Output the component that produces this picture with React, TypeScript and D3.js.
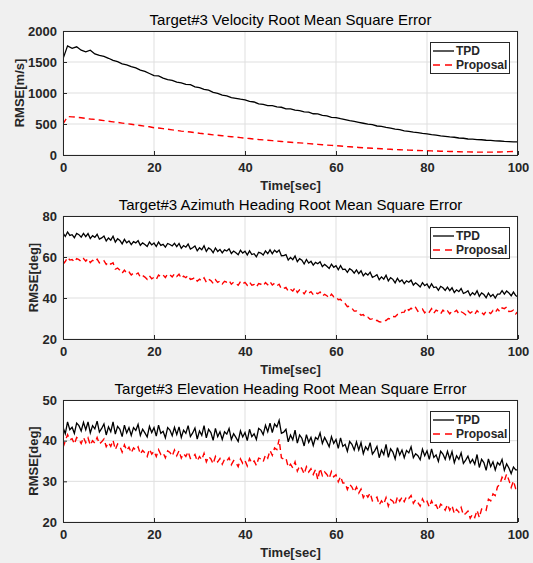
import { useEffect, useRef } from 'react'
import * as d3 from 'd3'

// ---- chart text ----
const titles = [
  'Target#3 Velocity Root Mean Square Error',
  'Target#3 Azimuth Heading Root Mean Square Error',
  'Target#3 Elevation Heading Root Mean Square Error',
]
const yLabels = ['RMSE[m/s]', 'RMSE[deg]', 'RMSE[deg]']
const xLabel = 'Time[sec]'
const seriesNames = ['TPD', 'Proposal']

// ---- axes ----
const xDomain = [0, 100]
const xTicks = [0, 20, 40, 60, 80, 100]
const yDomains = [[0, 2000], [20, 80], [20, 50]]
const yTicks = [[0, 500, 1000, 1500, 2000], [20, 40, 60, 80], [20, 30, 40, 50]]

// ---- velocity RMSE, one value per second (0..100) ----
const velTpd = [
  1550, 1760, 1720, 1745, 1690, 1665, 1690, 1630, 1605, 1590,
  1560, 1525, 1505, 1470, 1455, 1425, 1405, 1370, 1350, 1315,
  1280, 1275, 1240, 1215, 1205, 1175, 1165, 1140, 1135, 1100,
  1085, 1060, 1045, 1010, 995, 965, 955, 925, 915, 900,
  890, 865, 855, 825, 815, 795, 795, 775, 770, 745,
  745, 725, 715, 695, 690, 665, 662, 638, 632, 608,
  602, 585, 572, 555, 543, 527, 512, 498, 490, 468,
  462, 446, 432, 418, 410, 390, 382, 368, 362, 348,
  342, 328, 322, 308, 302, 292, 286, 274, 270, 258,
  256, 248, 246, 238, 236, 228, 226, 219, 216, 211,
  212,
]
const velProp = [
  500, 620, 615, 610, 600, 590, 580, 575, 565, 555,
  545, 535, 525, 515, 505, 495, 485, 475, 465, 455,
  440, 435, 425, 415, 405, 395, 385, 378, 370, 360,
  350, 342, 335, 325, 318, 310, 302, 295, 288, 280,
  272, 265, 258, 250, 244, 238, 232, 225, 218, 212,
  206, 200, 195, 190, 184, 178, 172, 166, 160, 155,
  150, 144, 138, 132, 127, 122, 117, 112, 108, 104,
  100, 96, 92, 88, 85, 82, 79, 76, 73, 71,
  69, 66, 64, 61, 59, 57, 55, 53, 51, 50,
  48, 47, 46, 46, 46, 47, 49, 51, 54, 57,
  60,
]

// ---- azimuth RMSE, one value per half second (0..100) ----
const azTpd = [
  71.8, 70.0, 72.2, 70.5, 70.9, 69.4, 71.5, 70.9, 69.7, 71.5,
  69.9, 71.4, 69.0, 70.4, 69.6, 71.1, 68.7, 69.3, 70.2, 67.8,
  69.3, 68.2, 70.1, 67.3, 68.9, 68.1, 66.4, 68.6, 66.9, 67.8,
  66.0, 67.5, 66.9, 68.0, 65.7, 66.9, 66.1, 65.1, 67.3, 65.9,
  66.8, 65.1, 67.3, 65.7, 66.2, 64.8, 66.6, 66.1, 65.4, 66.7,
  65.1, 66.6, 64.2, 65.6, 64.8, 66.3, 63.9, 64.5, 65.4, 63.0,
  64.5, 63.5, 65.5, 62.7, 64.4, 63.7, 62.1, 64.4, 62.7, 63.7,
  62.0, 63.5, 62.9, 64.0, 61.7, 62.9, 62.1, 61.1, 63.3, 61.9,
  62.8, 61.0, 63.0, 61.2, 61.6, 60.1, 62.3, 61.9, 61.0, 63.0,
  61.6, 63.5, 61.6, 63.3, 62.3, 63.4, 60.6, 60.7, 61.2, 58.5,
  59.8, 58.7, 60.5, 57.7, 59.2, 58.4, 56.6, 58.8, 57.0, 57.9,
  56.0, 57.4, 56.7, 57.7, 55.3, 56.4, 55.5, 54.4, 56.5, 55.0,
  55.8, 53.8, 55.8, 53.9, 54.1, 52.5, 54.3, 53.5, 52.1, 53.7,
  51.9, 53.3, 50.8, 52.1, 51.2, 52.6, 50.1, 50.6, 51.4, 48.9,
  50.3, 49.2, 51.1, 48.3, 49.9, 49.1, 47.4, 49.6, 47.9, 48.8,
  47.0, 48.4, 47.7, 48.7, 46.3, 47.4, 46.5, 45.4, 47.5, 46.0,
  46.8, 44.9, 46.9, 45.1, 45.4, 43.8, 45.7, 45.0, 43.7, 45.3,
  43.6, 45.0, 42.7, 44.0, 43.1, 44.6, 42.2, 42.7, 43.5, 41.2,
  42.6, 41.6, 43.5, 40.8, 42.5, 41.7, 40.1, 42.4, 40.7, 41.7,
  40.0, 41.9, 41.9, 43.6, 41.9, 43.4, 42.5, 41.1, 42.9, 41.2,
  40.5,
]
const azProp = [
  56.5, 57.8, 59.8, 58.5, 58.8, 57.6, 59.2, 58.7, 57.8, 59.2,
  58.0, 59.2, 57.3, 58.4, 57.7, 58.9, 57.1, 57.5, 58.2, 56.4,
  57.5, 56.5, 57.2, 54.1, 54.6, 53.6, 52.1, 53.6, 52.1, 52.7,
  51.2, 52.2, 51.5, 52.2, 50.2, 51.0, 50.2, 49.1, 50.8, 49.4,
  50.1, 49.1, 51.2, 50.4, 51.2, 50.0, 51.7, 51.3, 50.3, 51.8,
  50.5, 51.6, 49.6, 50.7, 49.9, 51.0, 49.1, 49.4, 50.1, 48.2,
  49.2, 48.4, 49.9, 47.7, 49.1, 48.5, 47.1, 48.9, 47.6, 48.3,
  46.9, 48.1, 47.7, 48.5, 46.7, 47.7, 47.1, 46.2, 48.0, 46.9,
  47.6, 46.2, 47.7, 46.3, 46.6, 45.3, 47.0, 46.7, 45.9, 47.5,
  46.5, 48.0, 46.3, 47.2, 46.0, 46.7, 44.4, 44.6, 45.2, 43.3,
  44.3, 43.4, 45.0, 42.7, 44.0, 43.4, 42.0, 43.7, 42.4, 43.1,
  41.6, 42.7, 42.1, 42.9, 41.0, 41.8, 41.1, 40.1, 41.9, 40.6,
  40.7, 39.2, 39.4, 37.9, 37.3, 35.8, 36.0, 35.0, 33.6, 33.7,
  32.7, 31.6, 31.9, 30.4, 30.6, 29.6, 29.8, 28.8, 29.1, 28.4,
  28.2, 29.0, 29.0, 30.0, 29.8, 31.0, 30.9, 32.0, 31.8, 33.0,
  33.1, 35.2, 34.0, 35.0, 34.2, 35.4, 33.5, 33.9, 34.6, 32.8,
  33.9, 33.1, 34.8, 32.6, 34.1, 33.5, 32.3, 34.1, 32.9, 33.7,
  32.3, 33.6, 33.1, 34.0, 32.3, 33.3, 32.7, 31.8, 33.7, 32.6,
  33.4, 32.1, 33.8, 32.6, 33.0, 31.9, 33.6, 33.2, 32.4, 33.9,
  32.9, 34.6, 33.4, 35.2, 34.8, 35.6, 33.4, 33.5, 34.1, 32.3,
  33.4,
]

// ---- elevation RMSE, one value per half second (0..100) ----
const elTpd = [
  43.3, 41.7, 44.6, 42.7, 43.3, 41.8, 44.3, 43.7, 42.4, 44.5,
  42.7, 44.6, 41.9, 43.7, 42.9, 44.8, 42.1, 43.0, 44.1, 41.4,
  43.4, 42.2, 44.6, 41.6, 43.5, 42.8, 41.0, 43.8, 41.9, 43.2,
  41.3, 43.2, 42.5, 44.0, 41.3, 42.8, 41.9, 40.9, 43.5, 42.0,
  43.2, 41.1, 43.8, 41.8, 42.3, 40.7, 43.2, 42.6, 41.2, 43.3,
  41.5, 43.4, 40.8, 42.6, 41.8, 43.7, 41.0, 41.9, 43.1, 40.4,
  42.4, 41.3, 43.7, 40.7, 42.8, 42.0, 40.1, 43.0, 41.0, 42.2,
  40.3, 42.2, 41.6, 43.0, 40.3, 41.7, 40.8, 39.8, 42.4, 40.9,
  42.0, 40.0, 42.8, 41.0, 41.7, 40.3, 43.0, 42.6, 41.5, 43.8,
  42.2, 44.3, 42.0, 44.1, 43.4, 45.0, 41.8, 42.1, 42.8, 39.7,
  41.4, 40.2, 42.6, 39.4, 41.4, 40.6, 38.7, 41.5, 39.6, 40.8,
  38.8, 40.8, 40.3, 41.9, 39.3, 40.8, 39.7, 38.5, 41.0, 39.3,
  40.3, 38.1, 40.7, 38.6, 39.1, 37.4, 39.8, 39.1, 37.7, 39.7,
  37.7, 39.5, 36.8, 38.5, 37.7, 39.5, 36.7, 37.5, 38.6, 35.8,
  37.7, 36.6, 39.1, 35.9, 38.0, 37.2, 35.5, 38.3, 36.5, 37.7,
  35.8, 37.6, 37.0, 38.5, 35.8, 36.8, 36.3, 35.3, 37.9, 36.3,
  37.5, 35.4, 38.0, 35.9, 36.5, 34.9, 37.4, 36.7, 35.4, 37.4,
  35.5, 37.3, 34.6, 36.3, 35.4, 37.0, 34.4, 35.2, 36.2, 34.5,
  35.4, 34.2, 36.6, 33.4, 35.4, 34.6, 32.7, 35.5, 33.6, 34.8,
  32.8, 34.6, 34.0, 35.4, 32.7, 34.3, 33.3, 31.9, 33.5, 32.8,
  32.8,
]
const elProp = [
  38.3, 39.9, 41.5, 40.2, 40.5, 39.2, 40.8, 40.3, 39.3, 40.8,
  39.5, 40.7, 38.9, 40.0, 39.4, 40.8, 39.2, 39.7, 40.4, 38.5,
  39.5, 38.6, 40.1, 37.8, 39.2, 38.6, 37.2, 39.0, 37.6, 38.4,
  37.0, 38.2, 37.7, 38.5, 36.7, 37.6, 37.0, 36.1, 37.9, 36.7,
  37.4, 36.1, 37.8, 36.6, 37.0, 35.8, 37.5, 37.1, 36.2, 37.7,
  36.3, 37.5, 35.7, 36.8, 36.1, 37.3, 35.6, 35.9, 36.6, 35.0,
  36.1, 35.3, 36.9, 34.8, 36.1, 35.5, 34.3, 36.1, 34.8, 35.6,
  34.2, 35.4, 35.0, 35.8, 34.1, 35.1, 34.6, 33.6, 35.5, 34.4,
  35.1, 33.8, 35.6, 34.5, 35.0, 33.9, 35.7, 35.5, 34.8, 36.5,
  35.7, 37.6, 36.4, 38.2, 37.8, 40.3, 35.8, 35.5, 35.7, 33.5,
  34.2, 33.3, 34.8, 32.5, 33.8, 33.1, 31.8, 33.6, 32.3, 33.1,
  31.7, 32.9, 30.4, 33.2, 31.4, 32.3, 31.7, 30.7, 32.4, 31.1,
  31.6, 29.9, 31.2, 29.6, 29.6, 28.0, 29.3, 28.6, 27.4, 28.6,
  27.1, 28.1, 26.0, 27.0, 26.1, 27.1, 25.2, 25.5, 26.1, 24.2,
  25.2, 24.4, 26.0, 23.9, 25.5, 25.1, 24.1, 26.2, 25.1, 26.1,
  25.0, 26.3, 25.8, 26.5, 24.6, 25.5, 24.8, 23.9, 25.7, 24.5,
  25.1, 23.7, 25.2, 23.9, 24.2, 22.9, 24.4, 23.9, 22.9, 24.3,
  22.9, 24.0, 22.1, 23.1, 22.4, 23.6, 21.7, 22.1, 22.7, 20.9,
  21.9, 21.1, 22.9, 21.1, 23.2, 23.4, 22.9, 25.6, 25.2, 26.9,
  26.5, 28.7, 29.2, 31.0, 30.1, 31.8, 30.3, 28.5, 30.1, 28.1,
  27.3,
]

const tpdSeries = [velTpd, azTpd, elTpd]
const propSeries = [velProp, azProp, elProp]

export default function App() {
  const svgRef = useRef<SVGSVGElement>(null)

  useEffect(() => {
    if (!svgRef.current) return
    const svg = d3.select(svgRef.current)
    svg.selectAll('*').remove()

    const width = 533
    const height = 563
    const font = '"Liberation Sans", Arial, Helvetica, sans-serif'
    const axisColor = '#262626'
    const gridColor = '#dfdfdf'

    svg.attr('width', width).attr('height', height)

    svg.append('rect')
      .attr('width', width)
      .attr('height', height)
      .style('fill', '#f0f0f0')

    const left = 63
    const right = 518
    const tops = [31, 216, 400]
    const bottoms = [155, 339, 522]
    const yLabelX = [19, 33, 33]

    titles.forEach((title, i) => {
      const top = tops[i]
      const bottom = bottoms[i]

      const xScale = d3.scaleLinear().domain(xDomain).range([left, right])
      const yScale = d3.scaleLinear().domain(yDomains[i]).range([bottom, top])

      const g = svg.append('g')

      // plot area
      g.append('rect')
        .attr('x', left).attr('y', top)
        .attr('width', right - left).attr('height', bottom - top)
        .style('fill', '#ffffff')

      // grid
      g.selectAll('.vgrid')
        .data(xTicks)
        .enter().append('line')
        .attr('x1', d => xScale(d)).attr('x2', d => xScale(d))
        .attr('y1', top).attr('y2', bottom)
        .style('stroke', gridColor)
        .style('stroke-width', 1)

      g.selectAll('.hgrid')
        .data(yTicks[i])
        .enter().append('line')
        .attr('x1', left).attr('x2', right)
        .attr('y1', d => yScale(d)).attr('y2', d => yScale(d))
        .style('stroke', gridColor)
        .style('stroke-width', 1)

      // clip
      const clipId = `clip-${i}`
      svg.append('clipPath').attr('id', clipId)
        .append('rect')
        .attr('x', left).attr('y', top)
        .attr('width', right - left).attr('height', bottom - top)

      const line = (vals: number[]) => {
        const step = (xDomain[1] - xDomain[0]) / (vals.length - 1)
        return d3.line<number>()
          .x((_, k) => xScale(xDomain[0] + k * step))
          .y(d => yScale(d))(vals)
      }

      g.append('path')
        .attr('clip-path', `url(#${clipId})`)
        .attr('d', line(tpdSeries[i]))
        .style('fill', 'none')
        .style('stroke', '#000000')
        .style('stroke-width', 1.3)

      g.append('path')
        .attr('clip-path', `url(#${clipId})`)
        .attr('d', line(propSeries[i]))
        .style('fill', 'none')
        .style('stroke', '#ff0000')
        .style('stroke-width', 1.4)
        .style('stroke-dasharray', '6,4')

      // axes
      const xAxis = g.append('g')
        .attr('transform', `translate(0,${bottom})`)
        .call(d3.axisBottom(xScale).tickValues(xTicks).tickSize(-4).tickPadding(8))
      const yAxis = g.append('g')
        .attr('transform', `translate(${left},0)`)
        .call(d3.axisLeft(yScale).tickValues(yTicks[i]).tickFormat(d3.format('d')).tickSize(-4).tickPadding(6))

      ;[xAxis, yAxis].forEach(ax => {
        ax.select('.domain').remove()
        ax.selectAll('line').style('stroke', axisColor)
        ax.selectAll('text')
          .style('font-family', font)
          .style('font-size', '13px')
          .style('font-weight', 'bold')
          .style('fill', axisColor)
      })

      // box
      g.append('rect')
        .attr('x', left + 0.5).attr('y', top + 0.5)
        .attr('width', right - left - 1).attr('height', bottom - top)
        .style('fill', 'none')
        .style('stroke', axisColor)
        .style('stroke-width', 1)

      // title
      g.append('text')
        .attr('x', (left + right) / 2)
        .attr('y', top - 11)
        .attr('dy', '0.35em')
        .attr('text-anchor', 'middle')
        .style('font-family', font)
        .style('font-size', '15px')
        .style('fill', '#000000')
        .text(title)

      // x label
      g.append('text')
        .attr('x', (left + right) / 2)
        .attr('y', bottom + 30)
        .attr('dy', '0.35em')
        .attr('text-anchor', 'middle')
        .style('font-family', font)
        .style('font-size', '13px')
        .style('font-weight', 'bold')
        .style('fill', axisColor)
        .text(xLabel)

      // y label
      g.append('text')
        .attr('transform', `translate(${yLabelX[i]},${(top + bottom) / 2}) rotate(-90)`)
        .attr('dy', '0.35em')
        .attr('text-anchor', 'middle')
        .style('font-family', font)
        .style('font-size', '13px')
        .style('font-weight', 'bold')
        .style('fill', axisColor)
        .text(yLabels[i])

      // legend
      const legend = g.append('g')
        .attr('transform', `translate(430,${top + 11})`)

      legend.append('rect')
        .attr('x', 0.5).attr('y', 0.5)
        .attr('width', 79).attr('height', 31)
        .style('fill', '#ffffff')
        .style('stroke', axisColor)
        .style('stroke-width', 1)

      seriesNames.forEach((name, k) => {
        const row = legend.append('g')
          .attr('transform', `translate(0,${9 + k * 14})`)
        row.append('line')
          .attr('x1', 3).attr('x2', 24)
          .attr('y1', 0).attr('y2', 0)
          .style('stroke', k === 0 ? '#000000' : '#ff0000')
          .style('stroke-width', k === 0 ? 1.3 : 1.4)
          .style('stroke-dasharray', k === 0 ? 'none' : '7,5')
        row.append('text')
          .attr('x', 26)
          .attr('y', 0)
          .attr('dy', '0.35em')
          .style('font-family', font)
          .style('font-size', '12px')
          .style('font-weight', 'bold')
          .style('fill', axisColor)
          .text(name)
      })
    })
  }, [])

  return (
    <svg ref={svgRef} style={{ position: 'absolute', left: 0, top: 0, display: 'block' }}></svg>
  )
}
